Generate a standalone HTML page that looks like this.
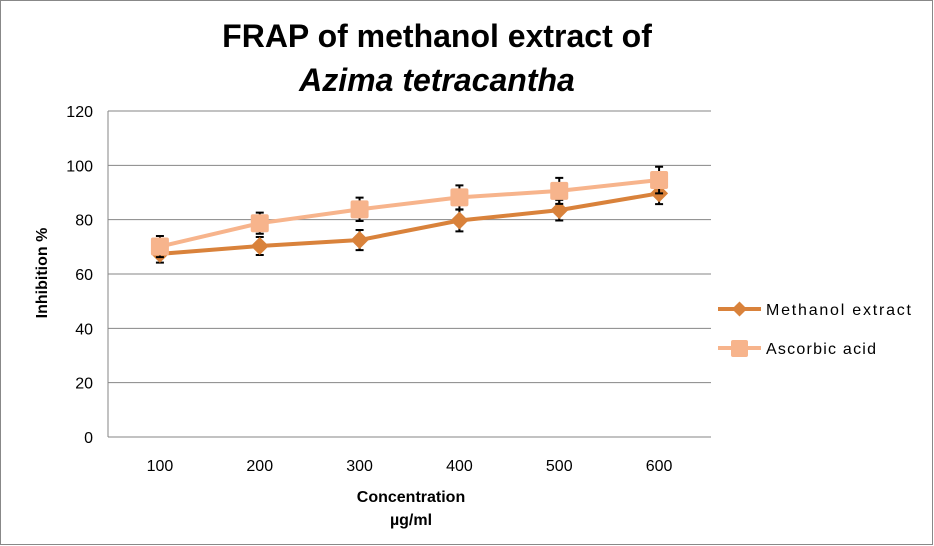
<!DOCTYPE html>
<html><head><meta charset="utf-8"><style>
body{margin:0;background:#fff}
svg{display:block;font-family:"Liberation Sans",sans-serif}
</style></head><body>
<svg id="c" width="934" height="546">
<rect x="0.5" y="0.5" width="932" height="544" fill="#fff" stroke="#888"/>
<text x="437" y="47" text-anchor="middle" font-size="32" font-weight="bold">FRAP of methanol extract of</text>
<text x="437" y="91" text-anchor="middle" font-size="32" font-weight="bold" font-style="italic">Azima tetracantha</text>
<text transform="translate(47,273) rotate(-90)" text-anchor="middle" font-size="16" font-weight="bold">Inhibition %</text>
<text x="411" y="502" text-anchor="middle" font-size="16" font-weight="bold">Concentration</text>
<text x="411" y="525" text-anchor="middle" font-size="16" font-weight="bold">µg/ml</text>
<g id="g"></g>
<g>
<line x1="718" y1="309" x2="761" y2="309" stroke="#d9823b" stroke-width="4"/>
<path d="M739.5 301.5 L747 309 L739.5 316.5 L732 309Z" fill="#d9823b"/>
<text x="766" y="315" font-size="16" textLength="145">Methanol extract</text>
<line x1="718" y1="348" x2="761" y2="348" stroke="#f7b48c" stroke-width="4"/>
<rect x="731" y="340" width="17" height="17" rx="2" fill="#f7b48c"/>
<text x="766" y="354" font-size="16" textLength="110">Ascorbic acid</text>
</g>
</svg>
<script>
const categories=["100","200","300","400","500","600"];
const methanol=[67.4,70.3,72.5,79.7,83.5,89.7];
const methanolErr=[3.2,3.3,3.7,4.0,3.8,4.0];
const ascorbic=[70.1,78.7,83.8,88.2,90.6,94.6];
const ascorbicErr=[3.9,3.9,4.3,4.4,4.8,4.9];
const yTicks=[0,20,40,60,80,100,120];
const NS="http://www.w3.org/2000/svg";
const g=document.getElementById('g');
const L=108,R=711,T=111,B=437;
const x=i=>L+2+(R-L-4)/categories.length*(i+0.5);
const y=v=>B-(B-T)*v/120;
function mk(t,a){const e=document.createElementNS(NS,t);for(const k in a)e.setAttribute(k,a[k]);g.appendChild(e);return e;}
yTicks.forEach(v=>{
 const ln=mk('line',{x1:L,x2:R,y1:y(v),y2:y(v),stroke:'#868686','stroke-width':1});
 
 
 const t=mk('text',{x:L-15,y:y(v)+6,'text-anchor':'end','font-size':16});t.textContent=v;
 
 
});
const ax=mk('line',{x1:L,x2:L,y1:T,y2:B,stroke:'#868686'});


categories.forEach((c,i)=>{
 const t=mk('text',{x:x(i),y:471,'text-anchor':'middle','font-size':16});t.textContent=c;
 
 
});
function series(vals,errs,col,name,shape){
 const pl=mk('polyline',{points:vals.map((v,i)=>x(i)+','+y(v)).join(' '),fill:'none',stroke:col,'stroke-width':4,'stroke-linejoin':'round'});
 
 
 vals.forEach((v,i)=>{
  const cx=x(i),e=errs[i],y1=y(v+e),y2=y(v-e);
  const eb=mk('path',{d:`M${cx} ${y1}V${y2}M${cx-4} ${y1}H${cx+4}M${cx-4} ${y2}H${cx+4}`,stroke:'#000','stroke-width':2,fill:'none'});
  
  
 });
 vals.forEach((v,i)=>{
  const cx=x(i),cy=y(v);let m;
  if(shape==='d')m=mk('path',{d:`M${cx} ${cy-9}L${cx+9} ${cy}L${cx} ${cy+9}L${cx-9} ${cy}Z`,fill:col});
  else m=mk('rect',{x:cx-9,y:cy-9,width:18,height:18,rx:2,fill:col});
  
  
 });
}
series(methanol,methanolErr,'#d9823b','methanol','d');
series(ascorbic,ascorbicErr,'#f7b48c','ascorbic','s');
</script>
</body></html>
